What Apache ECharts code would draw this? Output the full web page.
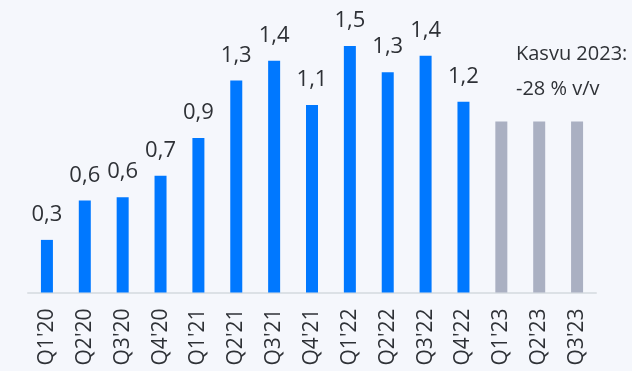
<!DOCTYPE html>
<html>
<head>
<meta charset="utf-8">
<script src="https://cdn.jsdelivr.net/npm/echarts@6/dist/echarts.min.js"></script>
<style>
  html, body { margin: 0; padding: 0; background: #f5f7fc; }
  #chart { width: 632px; height: 371px; }
</style>
</head>
<body>
<div id="chart"></div>
<script>
// Quarterly figures, 2020–2023
const quarters = ["Q1'20", "Q2'20", "Q3'20", "Q4'20", "Q1'21", "Q2'21", "Q3'21", "Q4'21",
                  "Q1'22", "Q2'22", "Q3'22", "Q4'22", "Q1'23", "Q2'23", "Q3'23"];
const values = [0.32, 0.56, 0.58, 0.71, 0.94, 1.29, 1.41, 1.14, 1.5, 1.34, 1.44, 1.16, 1.04, 1.04, 1.04];
// 2023 quarters are drawn in grey without value labels
const is2023 = [false, false, false, false, false, false, false, false,
                false, false, false, false, true, true, true];
const noteLines = ['Kasvu 2023:', '-28 % v/v'];

const BLUE = '#0078ff';
const GREY = '#aab0c2';
const TEXT = '#2e3136';
const FONT = '"Open Sans", "Noto Sans", sans-serif';

const chart = echarts.init(document.getElementById('chart'), null, { renderer: 'canvas' });

chart.setOption({
  backgroundColor: '#f5f7fc',
  animation: false,
  grid: { left: 28, right: 36, top: 13, bottom: 78.5, containLabel: false },
  xAxis: {
    type: 'category',
    data: quarters,
    axisLine: { show: true, lineStyle: { color: '#dce1e6', width: 2 } },
    axisTick: { show: false },
    axisLabel: {
      rotate: 90,
      margin: 16,
      color: TEXT,
      fontFamily: FONT,
      fontSize: 21,
      interval: 0
    }
  },
  yAxis: {
    type: 'value',
    min: 0,
    max: 1.7,
    show: false,
    splitLine: { show: false }
  },
  series: [{
    type: 'bar',
    barWidth: 12,
    data: values.map((v, i) => ({
      value: v,
      itemStyle: { color: is2023[i] ? GREY : BLUE },
      label: { show: !is2023[i] }
    })),
    label: {
      position: 'top',
      distance: 14,
      color: TEXT,
      fontFamily: FONT,
      fontSize: 22,
      formatter: p => p.value.toFixed(1).replace('.', ',')
    }
  }],
  graphic: noteLines.map((line, i) => ({
    type: 'text',
    left: 516,
    top: 44 + i * 35,
    style: { text: line, fill: TEXT, font: '20px ' + FONT }
  }))
});
</script>
</body>
</html>
